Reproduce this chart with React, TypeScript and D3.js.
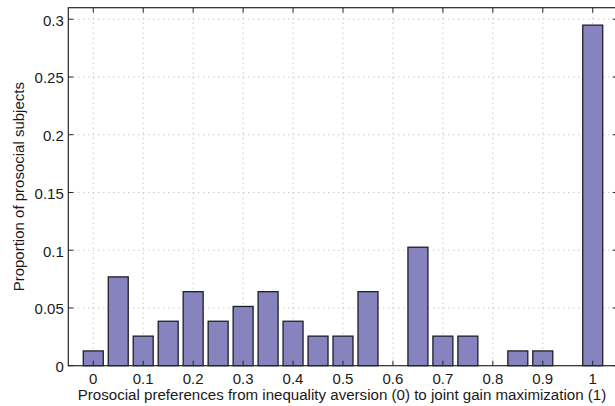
import React from "react";
import * as d3 from "d3";

const binCenters = [0, 0.05, 0.1, 0.15, 0.2, 0.25, 0.3, 0.35, 0.4, 0.45, 0.5, 0.55, 0.6, 0.65, 0.7, 0.75, 0.8, 0.85, 0.9, 0.95, 1];
const proportions = [0.0128, 0.0769, 0.0256, 0.0385, 0.0641, 0.0385, 0.0513, 0.0641, 0.0385, 0.0256, 0.0256, 0.0641, 0, 0.1026, 0.0256, 0.0256, 0, 0.0128, 0.0128, 0, 0.2949];
const xTicks = [0, 0.1, 0.2, 0.3, 0.4, 0.5, 0.6, 0.7, 0.8, 0.9, 1];
const yTicks = [0, 0.05, 0.1, 0.15, 0.2, 0.25, 0.3];
const xLabel = "Prosocial preferences from inequality aversion (0) to joint gain maximization (1)";
const yLabel = "Proportion of prosocial subjects";

export default function App() {
  const W = 615, H = 406;
  const left = 68.3, right = 617.7, top = 7.7, bottom = 365.7;
  const x = d3.scaleLinear().domain([-0.05, 1.05]).range([left, right]);
  const y = d3.scaleLinear().domain([0, 0.31]).range([bottom, top]);
  const barW = x(0.04) - x(0);
  const font = "'Liberation Sans', Arial, Helvetica, sans-serif";
  const axisColor = "#262626";
  const tickLen = 5;
  return (
    <svg width={W} height={H} style={{ position: "absolute", left: 0, top: 0, background: "#fff" }} fontFamily={font}>
      <rect x={0} y={0} width={W} height={H} fill="#fff" />
      {/* grid */}
      {xTicks.map((t) => (
        <line key={"gx" + t} x1={x(t)} x2={x(t)} y1={top} y2={bottom} stroke="#b0b0b0" strokeWidth={1} strokeDasharray="1,4" />
      ))}
      {yTicks.filter((t) => t > 0).map((t) => (
        <line key={"gy" + t} x1={left} x2={right} y1={y(t)} y2={y(t)} stroke="#b0b0b0" strokeWidth={1} strokeDasharray="1,4" />
      ))}
      {/* bars */}
      {binCenters.map((c, i) => (
        <rect
          key={"b" + i}
          x={x(c) - barW / 2}
          y={y(proportions[i])}
          width={barW}
          height={bottom - y(proportions[i])}
          fill="#8783be"
          stroke="#1e1e2a"
          strokeWidth={1.3}
        />
      ))}
      {/* box */}
      <rect x={left} y={top} width={right - left} height={bottom - top} fill="none" stroke={axisColor} strokeWidth={1.2} />
      {/* ticks */}
      {xTicks.map((t) => (
        <g key={"tx" + t}>
          <line x1={x(t)} x2={x(t)} y1={bottom} y2={bottom - tickLen} stroke={axisColor} />
          <line x1={x(t)} x2={x(t)} y1={top} y2={top + tickLen} stroke={axisColor} />
          <text x={x(t)} y={384} textAnchor="middle" fontSize={15} fill="#1a1a1a">{String(t)}</text>
        </g>
      ))}
      {yTicks.map((t) => (
        <g key={"ty" + t}>
          <line x1={left} x2={left + tickLen} y1={y(t)} y2={y(t)} stroke={axisColor} />
          <line x1={right} x2={right - tickLen} y1={y(t)} y2={y(t)} stroke={axisColor} />
          <text x={left - 4.5} y={y(t) + 6.3} textAnchor="end" fontSize={15} fill="#1a1a1a">{String(t)}</text>
        </g>
      ))}
      <text x={(left + right) / 2 - 1} y={400} textAnchor="middle" fontSize={15.1} fill="#1a1a1a">{xLabel}</text>
      <text transform={`translate(24, ${(top + bottom) / 2}) rotate(-90)`} textAnchor="middle" fontSize={15} fill="#1a1a1a">{yLabel}</text>
    </svg>
  );
}
